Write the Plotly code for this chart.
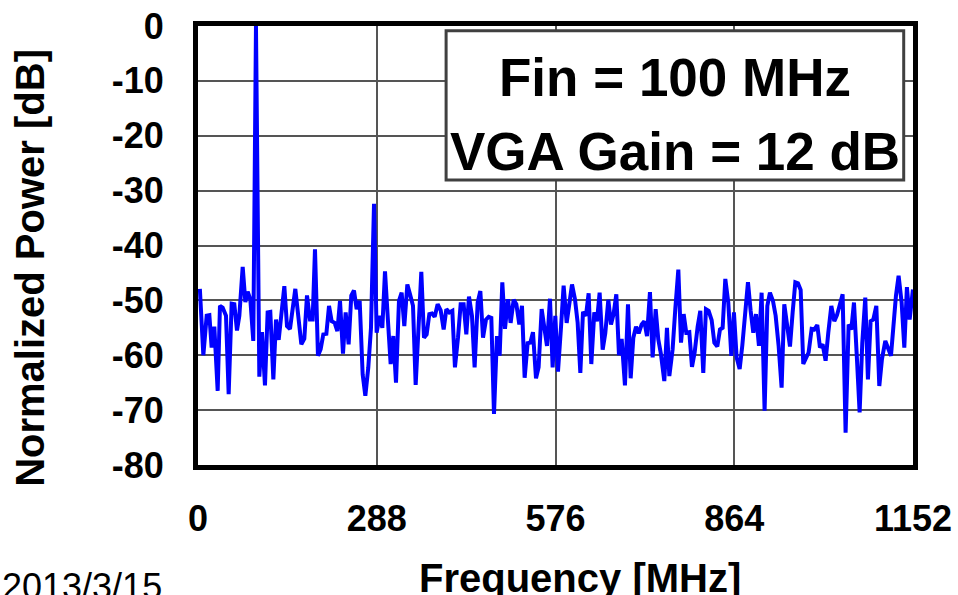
import plotly.graph_objects as go

# ---- data ----
freq_mhz = [3.0, 8.6, 14.0, 18.3, 22.0, 26.3, 31.7, 35.4, 39.7, 45.1, 49.4, 54.2, 58.5, 62.8, 66.6, 72.0, 76.3, 80.0, 84.3, 89.1,
            93.4, 98.8, 103.1, 107.9, 112.2, 116.5, 121.4, 125.7, 130.0, 139.1, 143.4, 148.2, 156.8, 166.5, 171.3, 175.6, 180.4, 184.7, 188.5,
            193.3, 197.6, 201.9, 206.8, 211.1, 215.4, 220.2, 224.5, 228.8, 233.6, 237.9, 242.7, 247.0, 251.3, 255.6, 260.5, 265.3, 269.6, 274.4, 278.7,
            283.6, 287.8, 292.7, 297.0, 301.3, 306.1, 310.4, 314.7, 319.0, 323.8, 328.1, 332.4, 337.3, 341.6, 346.4, 350.7, 355.0, 359.8, 364.1, 368.4,
            372.7, 377.0,
            381.3, 386.1, 391.0, 395.8, 400.1, 404.9, 409.8, 414.0, 418.9, 423.2, 428.0, 432.3, 436.6, 441.4, 445.7, 450.6, 454.9, 459.2, 464.0, 468.3,
            472.6, 476.9, 481.7, 486.0, 490.3, 494.6, 499.4, 503.7, 508.6, 512.9, 517.7, 522.0, 526.3, 531.1, 535.4, 539.7, 544.6, 548.8, 553.7, 558.0,
            562.3, 567.1,
            571.4, 575.7, 580.0, 584.8, 589.1, 594.0, 598.3, 602.6, 607.4, 611.7, 616.0, 620.3, 625.1, 629.4, 633.7, 638.5, 642.8, 647.1, 652.0, 656.2,
            661.1, 665.4, 669.7, 674.0, 678.3, 682.6, 687.9, 692.8, 697.1, 701.4, 705.7, 710.0, 714.8, 719.1, 723.4, 728.2, 732.5, 737.4, 741.6, 745.9,
            751.3, 755.6, 759.4,
            764.7, 769.0, 773.9, 778.2, 782.5, 786.7, 791.6, 795.9, 800.2, 805.0, 809.3, 814.1, 818.4, 822.7, 827.6, 831.9, 836.7, 841.0, 845.3, 849.6,
            854.4, 859.3, 863.5, 867.8, 872.7, 877.0, 881.3, 886.1, 890.4, 894.7, 899.0, 903.8, 908.1, 912.9, 917.3, 921.5, 926.4, 930.7, 935.5, 940.3,
            944.6,
            953.8, 958.1, 962.4, 966.7, 971.0, 975.2, 979.5, 983.8, 988.7, 993.0, 997.8, 1002.1, 1006.4, 1011.2, 1015.5, 1020.4, 1025.2, 1029.5, 1034.3, 1038.6,
            1043.4, 1048.3, 1052.6, 1056.9, 1061.7, 1066.0, 1070.3, 1075.1, 1079.4, 1083.7, 1088.0, 1092.9, 1097.7, 1102.0, 1107.4, 1111.7, 1116.5, 1124.5, 1128.8, 1133.7,
            1138.0, 1142.2, 1146.6, 1151.9]

power_db = [-47.9, -60.0, -52.8, -52.7, -58.6, -54.8, -66.5, -51.0, -51.3, -52.8, -67.1, -50.6, -50.7, -55.5, -52.8, -43.9, -50.3, -48.4, -49.8, -57.4,
            0.0, -63.9, -55.8, -65.5, -52.2, -52.1, -64.4, -53.5, -57.2, -47.4, -54.7, -55.2, -47.9, -58.0, -57.0, -49.1, -53.5, -53.5, -40.7,
            -60.1, -58.9, -56.2, -56.1, -51.0, -53.8, -54.1, -55.6, -50.1, -59.7, -52.2, -58.0, -49.1, -48.2, -51.6, -50.1, -63.5, -67.4, -62.2, -55.0,
            -32.4, -55.9, -52.8, -55.0, -44.7, -53.8, -61.6, -56.5, -65.0, -50.1, -48.6, -54.7, -47.1, -48.9, -51.0, -65.4, -55.0, -44.8, -56.8, -56.2,
            -52.5, -52.4,
            -53.0, -50.7, -51.8, -55.3, -51.6, -52.2, -51.9, -62.2, -56.8, -50.7, -50.7, -56.2, -49.3, -52.8, -62.2, -50.4, -48.3, -56.8, -53.5, -53.0,
            -53.2, -70.7, -56.5, -60.1, -46.7, -55.2, -49.8, -54.1, -49.9, -50.7, -54.4, -51.0, -64.1, -57.8, -57.7, -55.8, -64.2, -62.2, -51.6, -54.7,
            -58.3, -49.7,
            -62.2, -52.8, -63.0, -55.0, -47.3, -54.1, -50.7, -47.1, -49.8, -54.1, -63.2, -52.1, -52.8, -48.7, -61.6, -52.2, -53.8, -48.6, -59.0, -56.0,
            -49.9, -54.4, -52.4, -48.9, -60.0, -57.0, -65.5, -50.7, -64.2, -56.8, -54.8, -56.0, -54.4, -53.8, -56.5, -48.5, -60.4, -51.6, -57.1, -59.8,
            -64.7, -55.0, -63.8,
            -58.9, -51.6, -44.4, -57.7, -52.5, -55.9, -55.8, -62.1, -59.5, -54.8, -51.9, -63.2, -51.6, -51.9, -53.6, -57.7, -58.4, -55.3, -55.0, -46.1,
            -50.4, -60.1, -52.2, -60.4, -62.5, -58.2, -51.8, -46.7, -51.9, -55.9, -52.5, -58.3, -48.6, -70.1, -51.0, -48.6, -50.1, -52.8, -58.3, -65.9,
            -50.7,
            -58.4, -52.2, -46.7, -46.9, -48.1, -61.6, -60.4, -59.5, -55.2, -55.3, -54.5, -58.6, -58.0, -61.0, -55.9, -51.0, -53.8, -52.7, -50.7, -48.9,
            -74.1, -54.4, -55.3, -50.4, -60.7, -70.4, -57.7, -49.5, -64.4, -53.8, -53.5, -51.0, -65.6, -60.7, -57.4, -58.9, -60.1, -49.2, -45.5, -50.4,
            -58.6, -47.6, -53.5, -48.0]

x_ticks = [0, 288, 576, 864, 1152]
y_ticks = [0, -10, -20, -30, -40, -50, -60, -70, -80]
box_lines = ["Fin = 100 MHz", "VGA Gain = 12 dB"]
x_title = "Frequency [MHz]"
y_title = "Normalized Power [dB]"
date_text = "2013/3/15"

FONT = "Liberation Sans, Arial, sans-serif"

fig = go.Figure()
fig.add_trace(go.Scatter(x=freq_mhz, y=power_db, mode="lines",
                         line=dict(color="#0000FF", width=4), showlegend=False))

axis_common = dict(showline=True, linecolor="black", linewidth=5, mirror=True,
                   showgrid=True, gridcolor="#555555", gridwidth=1.5,
                   zeroline=False, ticks="", automargin=False,
                   tickfont=dict(family=FONT, size=36, color="black", weight="bold"))

fig.update_xaxes(range=[0, 1152], tickvals=x_ticks, ticktext=[str(v) for v in x_ticks],
                 ticklabelstandoff=18, **axis_common)
fig.update_yaxes(range=[-80, 0], tickvals=y_ticks, ticktext=[str(v) for v in y_ticks],
                 ticklabelstandoff=22, **axis_common)

# text box
fig.add_shape(type="rect", xref="paper", yref="paper",
              x0=0.347, x1=0.987, y0=0.649, y1=0.989,
              line=dict(color="#404040", width=3), fillcolor="white", layer="above")
fig.add_annotation(text=box_lines[0], xref="paper", yref="paper", x=0.667, y=0.882,
                   xanchor="center", yanchor="middle",
                   showarrow=False, font=dict(family=FONT, size=53, color="black", weight="bold"))
fig.add_annotation(text=box_lines[1], xref="paper", yref="paper", x=0.667, y=0.713,
                   xanchor="center", yanchor="middle",
                   showarrow=False, font=dict(family=FONT, size=53, color="black", weight="bold"))

fig.add_annotation(text=x_title, xref="paper", yref="paper", x=0.534, y=-0.257,
                   xanchor="center", yanchor="middle",
                   showarrow=False, font=dict(family=FONT, size=40, color="black", weight="bold"))
fig.add_annotation(text=y_title, xref="paper", yref="paper", x=-0.235, y=0.449, textangle=-90,
                   xanchor="center", yanchor="middle",
                   showarrow=False, font=dict(family=FONT, size=40, color="black", weight="bold"))
fig.add_annotation(text=date_text, xref="paper", yref="paper", x=-0.277, y=-0.276,
                   xanchor="left", yanchor="middle",
                   showarrow=False, font=dict(family=FONT, size=36, color="black"))

fig.update_layout(width=958, height=595, margin=dict(l=198, r=45, t=26, b=130),
                  paper_bgcolor="white", plot_bgcolor="white")

fig.write_html("out.html")
